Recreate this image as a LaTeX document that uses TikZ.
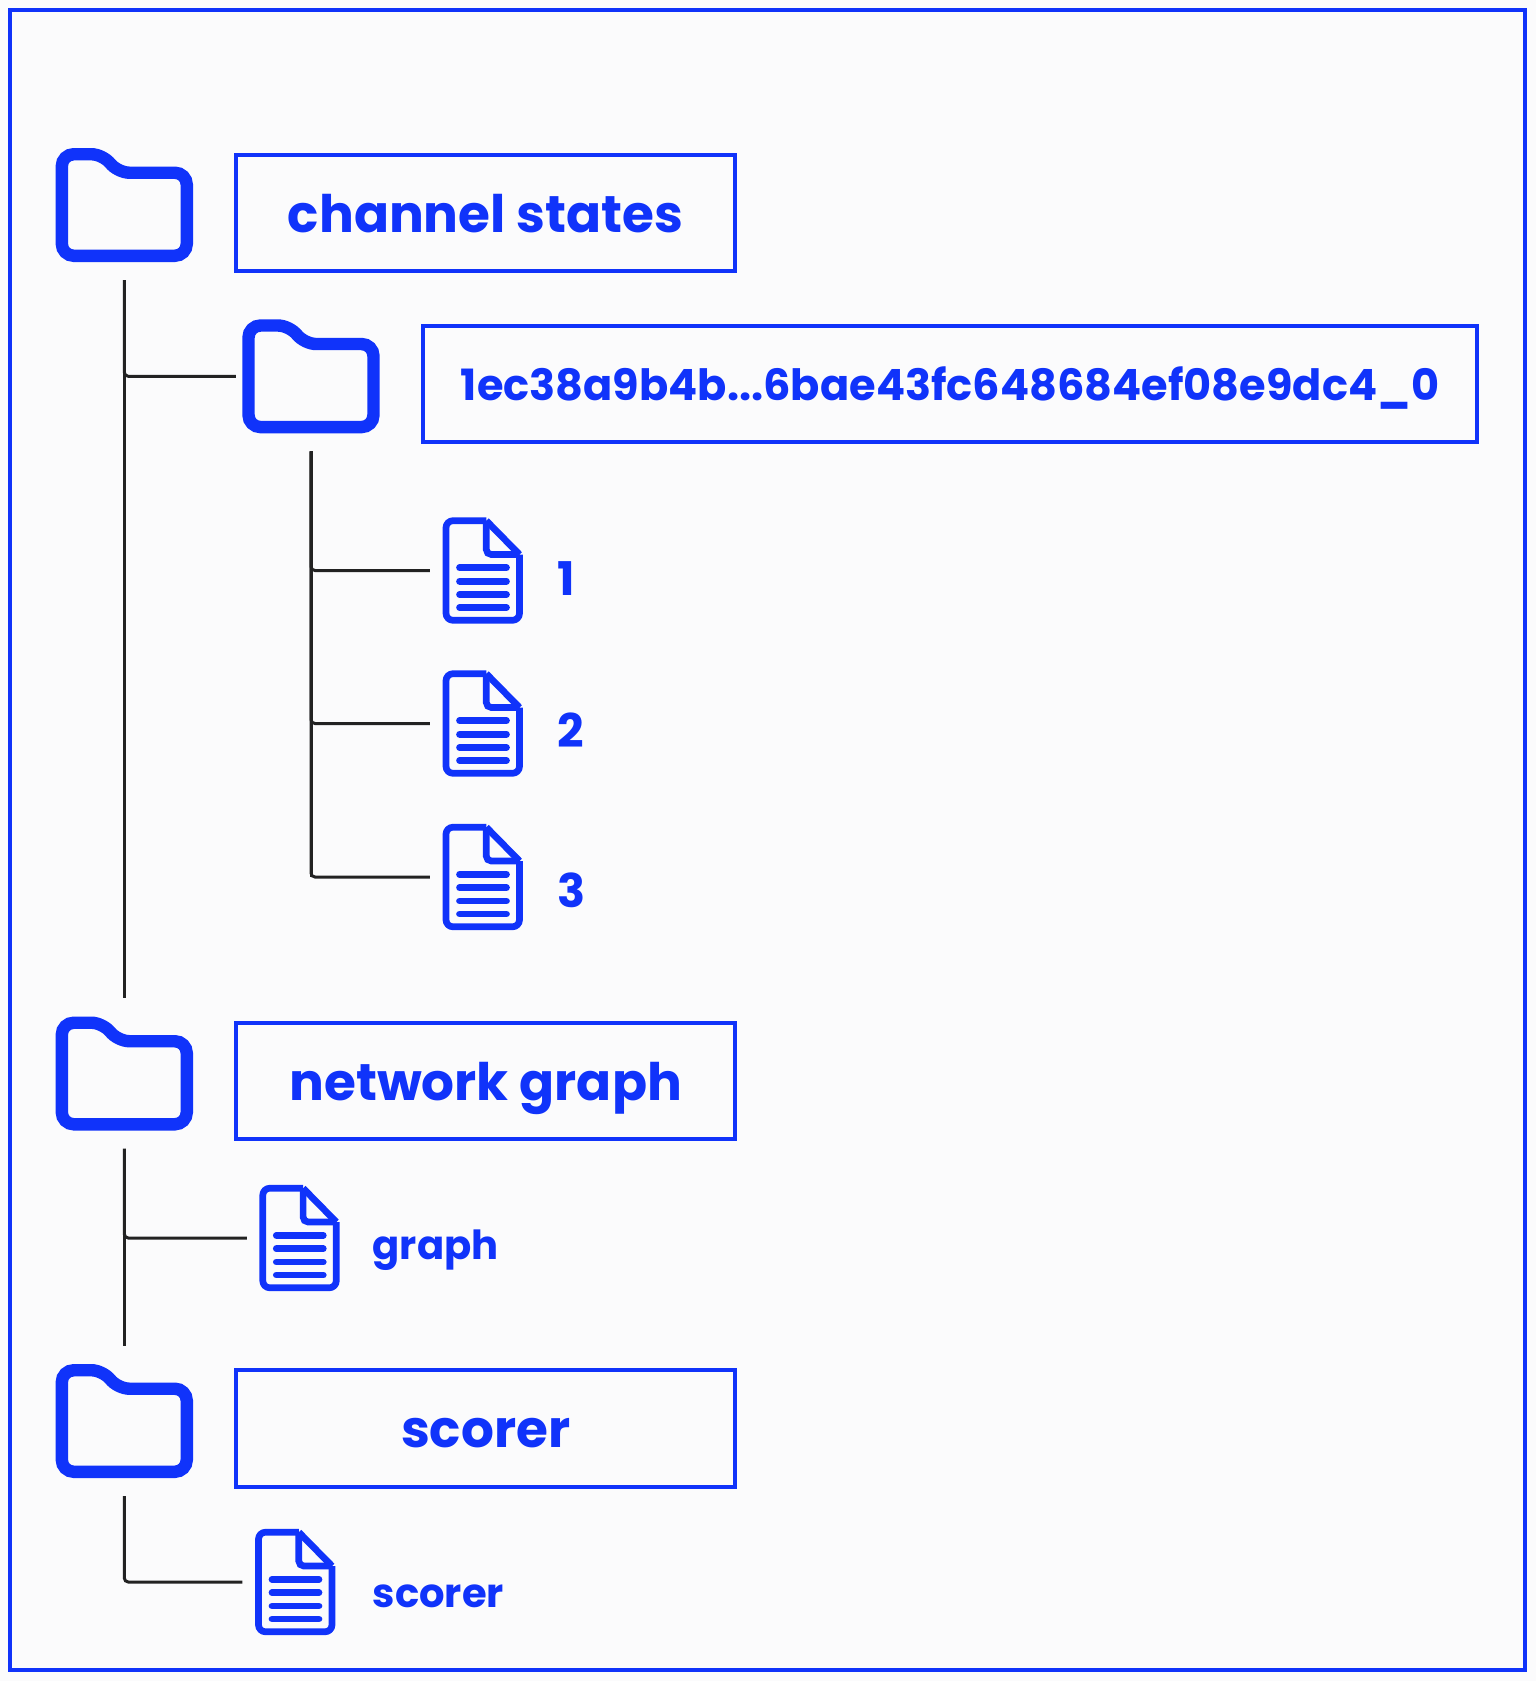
\documentclass[tikz,border=0pt]{standalone}
\usepackage{fontspec}
\setmainfont{Poppins}[BoldFont=* Bold]
\usepackage{xcolor}
\definecolor{treeblue}{RGB}{16,51,250}
\definecolor{treeline}{RGB}{34,34,34}
\definecolor{pagebg}{RGB}{251,251,252}
\tikzset{
    folder/.pic={
        \node[minimum width=1.374cm,minimum height=1.14cm,outer xsep=0.065cm,outer ysep=0.18cm,inner sep=0pt] (-box) at (0,0) {};
        \draw[treeblue,line width=0.124cm,rounded corners=0.12cm] (-62.5,50.8) -- (-62.5,-50.8) -- (-21,-50.8) -- (-7,-32.3) -- (62.5,-32.3) -- (62.5,50.8) -- cycle;
    },
    docfile/.pic={
        \node[minimum width=0.79cm,minimum height=1.06cm,outer xsep=0.13cm,outer ysep=0pt,inner sep=0pt] (-box) at (0,0) {};
        \draw[treeblue,line width=0.067cm,rounded corners=0.07cm,line join=round] (3.8,-49.8) -- (-36.5,-49.8) -- (-36.5,49.8) -- (37,49.8) -- (37,-16);
        \draw[treeblue,line width=0.067cm,line join=round] (37,-16) -- (3.8,-49.8);
        \draw[treeblue,line width=0.067cm,rounded corners=0.05cm] (3.8,-49.8) -- (3.8,-16) -- (37,-16);
        \foreach \yy in {-2.7,10.7,24,37}
            \draw[treeblue,line width=0.067cm,line cap=round] (-23,\yy) -- (24,\yy);
    },
}
\begin{document}
\begin{tikzpicture}[
    x=0.01cm,y=-0.01cm,
    titlebox/.style={draw=treeblue,line width=0.04cm,minimum height=1.16cm,text=treeblue,font=\fontsize{14.7}{14.7}\selectfont\bfseries,text height=0.48cm,text depth=0.1cm,inner sep=0pt},
    smalltext/.style={anchor=base west,text=treeblue,font=\fontsize{11.4}{11.4}\selectfont\bfseries,inner sep=0pt},
    digittext/.style={smalltext,font=\fontsize{13.2}{13.2}\selectfont\bfseries},
    branch/.style={treeline,line width=0.03cm},
    elbow/.style={treeline,line width=0.03cm,rounded corners=0.04cm},
]
\useasboundingbox (0,0) rectangle (1536,1681);
\fill[pagebg] (0,0) rectangle (1536,1681);
\draw[treeblue,line width=0.04cm] (10,10) rectangle (1525,1670);

\pic (f1) at (124.3,205) {folder};
\pic (f2) at (311,376.3) {folder};
\pic (f3) at (124.3,1073.5) {folder};
\pic (f4) at (124.3,1421) {folder};

\pic (d1) at (482.5,570.5) {docfile};
\pic (d2) at (482.5,723.5) {docfile};
\pic (d3) at (482.5,877) {docfile};
\pic (d4) at (299.3,1238) {docfile};
\pic (d5) at (295,1582) {docfile};

\node[titlebox,minimum width=4.99cm] (b1) at (485.7,213) {channel states};
\node[titlebox,minimum width=10.54cm,font=\fontsize{12.25}{12.25}\selectfont\bfseries,text height=0.42cm,text depth=0.1cm] (b2) at (950,384) {1ec38a9b4b...6bae43fc648684ef08e9dc4\_0};
\node[titlebox,minimum width=4.99cm] (b3) at (485.7,1081) {network graph};
\node[titlebox,minimum width=4.99cm] (b4) at (485.7,1428.5) {scorer};

\node[digittext] (t1) at (557,595) {1};
\node[digittext] (t2) at (557,747) {2};
\node[digittext] (t3) at (557,907) {3};
\node[smalltext] (t4) at (372,1259) {graph};
\node[smalltext] (t5) at (372,1607) {scorer};

\draw[branch] (f1-box.south) -- (f3-box.north);
\draw[elbow] (f1-box.south) |- (f2-box.west);
\draw[branch] (f2-box.south) -- (f2-box.south |- d3-box.west);
\draw[elbow] (f2-box.south) |- (d1-box.west);
\draw[elbow] (f2-box.south) |- (d2-box.west);
\draw[elbow] (f2-box.south) |- (d3-box.west);
\draw[branch] (f3-box.south) -- (f4-box.north);
\draw[elbow] (f3-box.south) |- (d4-box.west);
\draw[elbow] (f4-box.south) |- (d5-box.west);
\end{tikzpicture}
\end{document}
